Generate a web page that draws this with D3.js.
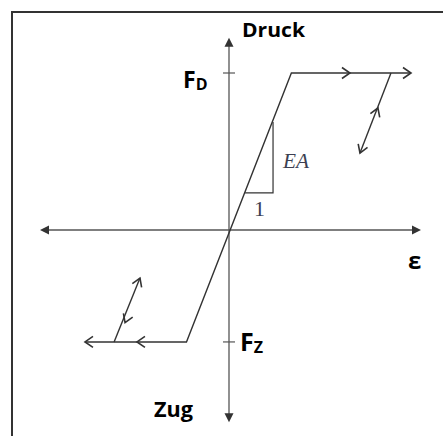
<!DOCTYPE html>
<html>
<head>
<meta charset="utf-8">
<script src="https://cdn.jsdelivr.net/npm/d3@7"></script>
<style>
  html, body { margin: 0; padding: 0; background: #fff; }
  svg { display: block; }
</style>
</head>
<body>
<svg id="chart" width="443" height="436"></svg>
<script>
// Idealised elastic–plastic force/strain law of a bar (compression up, tension down)

// axis extents in (strain, force) units
const strainAxis = [-1, 1.016];
const forceAxis = [-1.225, 1.225];

// force levels marked on the force axis
const forceTicks = [
  { name: "F", sub: "D", value: 1 },
  { name: "F", sub: "Z", value: -0.713 }
];

// main load path: tension plateau -> elastic line -> compression plateau
const pathStrain = [-0.762, -0.225, 0.33, 0.963];
const pathForce = [-0.713, -0.713, 1, 1];

// flow direction chevrons on the plateaus (tip positions, direction in strain)
const plateauArrowStrain = [0.64, 0.963, -0.487, -0.762];
const plateauArrowForce = [1, 1, -0.713, -0.713];
const plateauArrowDir = [1, 1, -1, -1];

// unloading/reloading branches (start on plateau, end at arrow tip)
const unloadStartStrain = [0.857, -0.608];
const unloadStartForce = [1, -0.713];
const unloadEndStrain = [0.693, -0.471];
const unloadEndForce = [0.49, -0.306];
// middle chevrons on those branches (tip positions, pointing back toward the plateau)
const unloadMidStrain = [0.788, -0.55];
const unloadMidForce = [0.777, -0.59];

// slope triangle on the elastic branch
const triStrain = [0.085, 0.233, 0.233];
const triForce = [0.236, 0.236, 0.688];

const svg = d3.select("#chart");

const x = d3.scaleLinear().domain([-1, 1]).range([40, 418]);
const y = d3.scaleLinear().domain([-1, 1]).range([387, 73]);

// frame (top and left edge)
svg.append("path")
  .attr("d", "M12,436 V12 H443")
  .attr("fill", "none")
  .attr("stroke", "#333")
  .attr("stroke-width", 2);

const axisColor = "#555";
const lineColor = "#333";

// filled arrow head: tip at (px,py), pointing along angle ang
function filledHead(px, py, ang, len, half) {
  const bx = px - len * Math.cos(ang), by = py - len * Math.sin(ang);
  const nx = -Math.sin(ang), ny = Math.cos(ang);
  return `M${px},${py} L${bx + nx * half},${by + ny * half} L${bx - nx * half},${by - ny * half} Z`;
}
// open chevron
function chevron(px, py, ang, len, half) {
  const bx = px - len * Math.cos(ang), by = py - len * Math.sin(ang);
  const nx = -Math.sin(ang), ny = Math.cos(ang);
  return `M${bx + nx * half},${by + ny * half} L${px},${py} L${bx - nx * half},${by - ny * half}`;
}

// strain axis
const ax = svg.append("g");
ax.append("line")
  .attr("x1", x(strainAxis[0]) + 4).attr("x2", x(strainAxis[1]) - 4)
  .attr("y1", y(0)).attr("y2", y(0))
  .attr("stroke", axisColor).attr("stroke-width", 1.6);
ax.append("path").attr("d", filledHead(x(strainAxis[1]), y(0), 0, 9, 4.5)).attr("fill", "#333");
ax.append("path").attr("d", filledHead(x(strainAxis[0]), y(0), Math.PI, 9, 4.5)).attr("fill", "#333");

// force axis
ax.append("line")
  .attr("x1", x(0)).attr("x2", x(0))
  .attr("y1", y(forceAxis[1]) + 4).attr("y2", y(forceAxis[0]) - 4)
  .attr("stroke", axisColor).attr("stroke-width", 1.3);
ax.append("path").attr("d", filledHead(x(0), y(forceAxis[1]), -Math.PI / 2, 9, 4.5)).attr("fill", "#333");
ax.append("path").attr("d", filledHead(x(0), y(forceAxis[0]), Math.PI / 2, 9, 4.5)).attr("fill", "#333");

// ticks on the force axis
ax.selectAll("line.tick").data(forceTicks).join("line")
  .attr("class", "tick")
  .attr("x1", x(0) - 6).attr("x2", x(0) + 6)
  .attr("y1", d => y(d.value)).attr("y2", d => y(d.value))
  .attr("stroke", axisColor).attr("stroke-width", 1.2);

// load path
const pts = pathStrain.map((s, i) => [x(s), y(pathForce[i])]);
svg.append("path")
  .attr("d", d3.line()(pts))
  .attr("fill", "none").attr("stroke", lineColor).attr("stroke-width", 1.4);

// plateau chevrons
svg.append("g").selectAll("path").data(plateauArrowStrain).join("path")
  .attr("d", (s, i) => chevron(x(s), y(plateauArrowForce[i]), plateauArrowDir[i] > 0 ? 0 : Math.PI, 8, 5.5))
  .attr("fill", "none").attr("stroke", lineColor).attr("stroke-width", 1.6);

// unloading branches with arrows
unloadStartStrain.forEach((s, i) => {
  const x0 = x(s), y0 = y(unloadStartForce[i]);
  const x1 = x(unloadEndStrain[i]), y1 = y(unloadEndForce[i]);
  const ang = Math.atan2(y1 - y0, x1 - x0);
  svg.append("line")
    .attr("x1", x0).attr("y1", y0).attr("x2", x1).attr("y2", y1)
    .attr("stroke", lineColor).attr("stroke-width", 1.4);
  svg.append("path")
    .attr("d", chevron(x1, y1, ang, 8, 5))
    .attr("fill", "none").attr("stroke", lineColor).attr("stroke-width", 1.6);
  svg.append("path")
    .attr("d", chevron(x(unloadMidStrain[i]), y(unloadMidForce[i]), ang + Math.PI, 8, 5))
    .attr("fill", "none").attr("stroke", lineColor).attr("stroke-width", 1.6);
});

// slope triangle
svg.append("path")
  .attr("d", d3.line()(triStrain.map((s, i) => [x(s), y(triForce[i])])))
  .attr("fill", "none").attr("stroke", lineColor).attr("stroke-width", 1.2);

const serif = "'Liberation Serif', 'DejaVu Serif', serif";
svg.append("text")
  .attr("x", 283).attr("y", 168)
  .attr("font-family", serif)
  .attr("font-style", "italic").attr("font-size", 22)
  .attr("textLength", 26).attr("lengthAdjust", "spacingAndGlyphs")
  .attr("fill", "#3c3f52")
  .text("EA");
svg.append("text")
  .attr("x", 259.5).attr("y", 216)
  .attr("text-anchor", "middle")
  .attr("font-family", serif)
  .attr("font-size", 22)
  .attr("fill", "#3c3f52")
  .text("1");

// labels
const bold = "'Open Sans', 'Liberation Sans', sans-serif";
svg.append("text")
  .attr("x", 242).attr("y", 37)
  .attr("font-family", bold).attr("font-weight", 700).attr("font-size", 19.5)
  .attr("textLength", 63).attr("lengthAdjust", "spacingAndGlyphs")
  .text("Druck");
svg.append("text")
  .attr("x", 154).attr("y", 417)
  .attr("font-family", bold).attr("font-weight", 700).attr("font-size", 20.5)
  .attr("textLength", 39).attr("lengthAdjust", "spacingAndGlyphs")
  .text("Zug");
svg.append("text")
  .attr("x", 408).attr("y", 269)
  .attr("font-family", bold).attr("font-weight", 700).attr("font-size", 24)
  .text("ε");

const tickLabelX = [183, 240];
const tickLabelDy = [15, 9];
const tickLabelSize = [23, 25];
forceTicks.forEach((d, i) => {
  const t = svg.append("text")
    .attr("x", tickLabelX[i]).attr("y", y(d.value) + tickLabelDy[i])
    .attr("font-family", bold).attr("font-weight", 700).attr("font-size", tickLabelSize[i]);
  t.append("tspan").text(d.name);
  t.append("tspan").attr("font-size", 16).attr("dy", 2).text(d.sub);
});
</script>
</body>
</html>
